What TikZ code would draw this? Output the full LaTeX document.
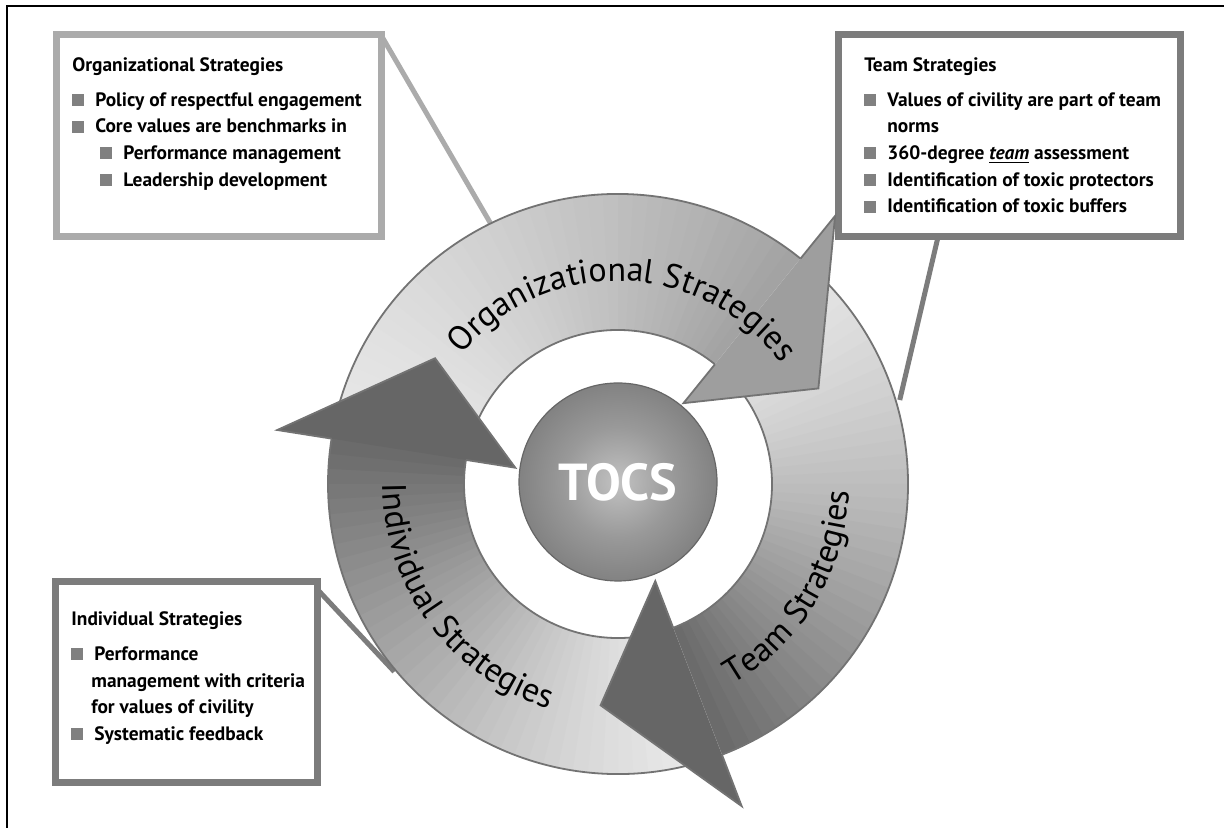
\documentclass[tikz,border=0pt]{standalone}
\usepackage{fontspec}
\setmainfont{PT Sans}
\usetikzlibrary{positioning, calc, decorations.text}

\definecolor{bulletgray}{HTML}{808080}
\definecolor{orgline}{HTML}{ABABAB}
\definecolor{teamline}{HTML}{7C7C7C}
\definecolor{indline}{HTML}{7C7C7C}

% shading of the centre ball
\pgfdeclareradialshading{tocsball}{\pgfpoint{0bp}{0bp}}{%
  color(0bp)=(black!24); color(14bp)=(black!40); color(36bp)=(black!58);
  color(46bp)=(black!66); color(50bp)=(black!74)}

% square bullet
\newcommand{\bul}{\makebox[11.5pt][l]{\textcolor{bulletgray}{\rule{6pt}{6pt}}}}

% band of a ring arrow: tail angle, barb angle, tail tone, barb tone
\newcommand{\ringband}[4]{%
  \foreach \i in {0,...,39} {
    \pgfmathsetmacro{\fromang}{#1-(#1-#2)*\i/40}
    \pgfmathsetmacro{\toang}{#1-(#1-#2)*(\i+1)/40-0.4}
    \pgfmathsetmacro{\tone}{#3+(#4-#3)*(\i/39)^1.3}
    \fill[black!\tone] (\fromang:154) arc[start angle=\fromang, end angle=\toang, radius=154]
      -- (\toang:290) arc[start angle=\toang, end angle=\fromang, radius=290] -- cycle;
  }
  \draw[rimline] (#1:290) arc[start angle=#1, end angle=#2, radius=290];
  \draw[rimline] (#1:154) arc[start angle=#1, end angle=#2, radius=154];
}

% head of a ring arrow: barb angle, tone
\newcommand{\ringhead}[2]{%
  \fill[black!#2] (#1:290) -- (#1:345) -- ({#1-25.5}:222) -- (#1:104) -- (#1:154) -- cycle;
  \draw[rimline] (#1:290) -- (#1:345) -- ({#1-25.5}:222) -- (#1:104) -- (#1:154);
}

\tikzset{
  stratbox/.style={draw, fill=white, line width=3.5pt, outer sep=0pt, inner sep=0pt, anchor=north west},
  boxtext/.style={align=left, inner sep=0pt, font=\fontsize{9.7}{13.3}\selectfont\bfseries},
  pinline/.style={line width=2.5pt},
  rimline/.style={draw=black!55, line width=0.9pt},
  arclabel/.style={decorate, decoration={text along path, text align=center,
      text={|\fontsize{17}{20}\selectfont|#1}}}
}

\begin{document}
\begin{tikzpicture}[x=0.5pt, y=0.5pt]
  \useasboundingbox (0,0) rectangle (1224,828);

  % Frame along the top and the left edge
  \draw[line width=1pt] (7,0) -- (7,822) -- (1224,822);

  % Strategy boxes
  \node[stratbox, draw=orgline, minimum width=162.5pt, minimum height=101pt] (orgbox) at (56,793) {};
  \node[stratbox, draw=teamline, minimum width=171pt, minimum height=101pt] (teambox) at (838,793) {};
  \node[stratbox, draw=indline, minimum width=131pt, minimum height=100.5pt] (indbox) at (55,246) {};

  % Box texts
  \node[boxtext, below right=11pt and 8pt of orgbox.north west] (orgtext) {Organizational Strategies\\[4.2pt]
    \bul Policy of respectful engagement\\
    \bul Core values are benchmarks in\\
    \hspace*{14pt}\bul Performance management\\
    \hspace*{14pt}\bul Leadership development};
  \node[boxtext, below right=11pt and 13pt of teambox.north west] (teamtext) {Team Strategies\\[4.2pt]
    \bul Values of civility are part of team\\
    \hspace*{11.5pt}norms\\
    \bul 360-degree \underline{\textit{team}} assessment\\
    \bul Identification of toxic protectors\\
    \bul Identification of toxic buffers};
  \node[boxtext, below right=14.6pt and 8pt of indbox.north west] (indtext) {Individual Strategies\\[4.2pt]
    \bul Performance\\
    \hspace*{10pt}management with criteria\\
    \hspace*{10pt}for values of civility\\
    \bul Systematic feedback};

  % Pins on the rim of the ring
  \begin{scope}[shift={(618,344)}]
    \coordinate (orgpin) at (116:286);
    \coordinate (teampin) at (16.6:294);
    \coordinate (indpin) at (220:292);
  \end{scope}

  % Connectors from the boxes to the ring
  \draw[pinline, draw=orgline] (orgbox.north east) -- (orgpin);
  \draw[pinline, draw=teamline] ([xshift=50pt]teambox.south west) -- (teampin);
  \draw[pinline, draw=indline] ([yshift=-3.5pt]indbox.north east) -- (indpin);

  % Ring of three arrows
  \begin{scope}[shift={(618,344)}]
    \ringband{171}{51}{9}{36}
    \ringband{51}{-69}{10}{58}
    \ringband{-69}{-189}{8}{58}
    \ringhead{51}{38}
    \ringhead{-69}{60}
    \ringhead{-189}{60}

    % Labels along the arrows
    \path[arclabel=Organizational Strategies] (178:203) arc[start angle=178, end angle=-1, radius=203];
    \path[arclabel=Team Strategies] (-121:231) arc[start angle=-121, end angle=59, radius=231];
    \path[arclabel=Individual Strategies] (150:235) arc[start angle=150, end angle=283, radius=235];
  \end{scope}

  % Centre ball
  \node[circle, minimum size=99pt, inner sep=0pt, draw=black!60, line width=0.6pt, shade, shading=tocsball,
    text=white, font=\fontsize{26}{30}\selectfont\bfseries] (tocs) at (618,346) {TOCS};
\end{tikzpicture}
\end{document}
